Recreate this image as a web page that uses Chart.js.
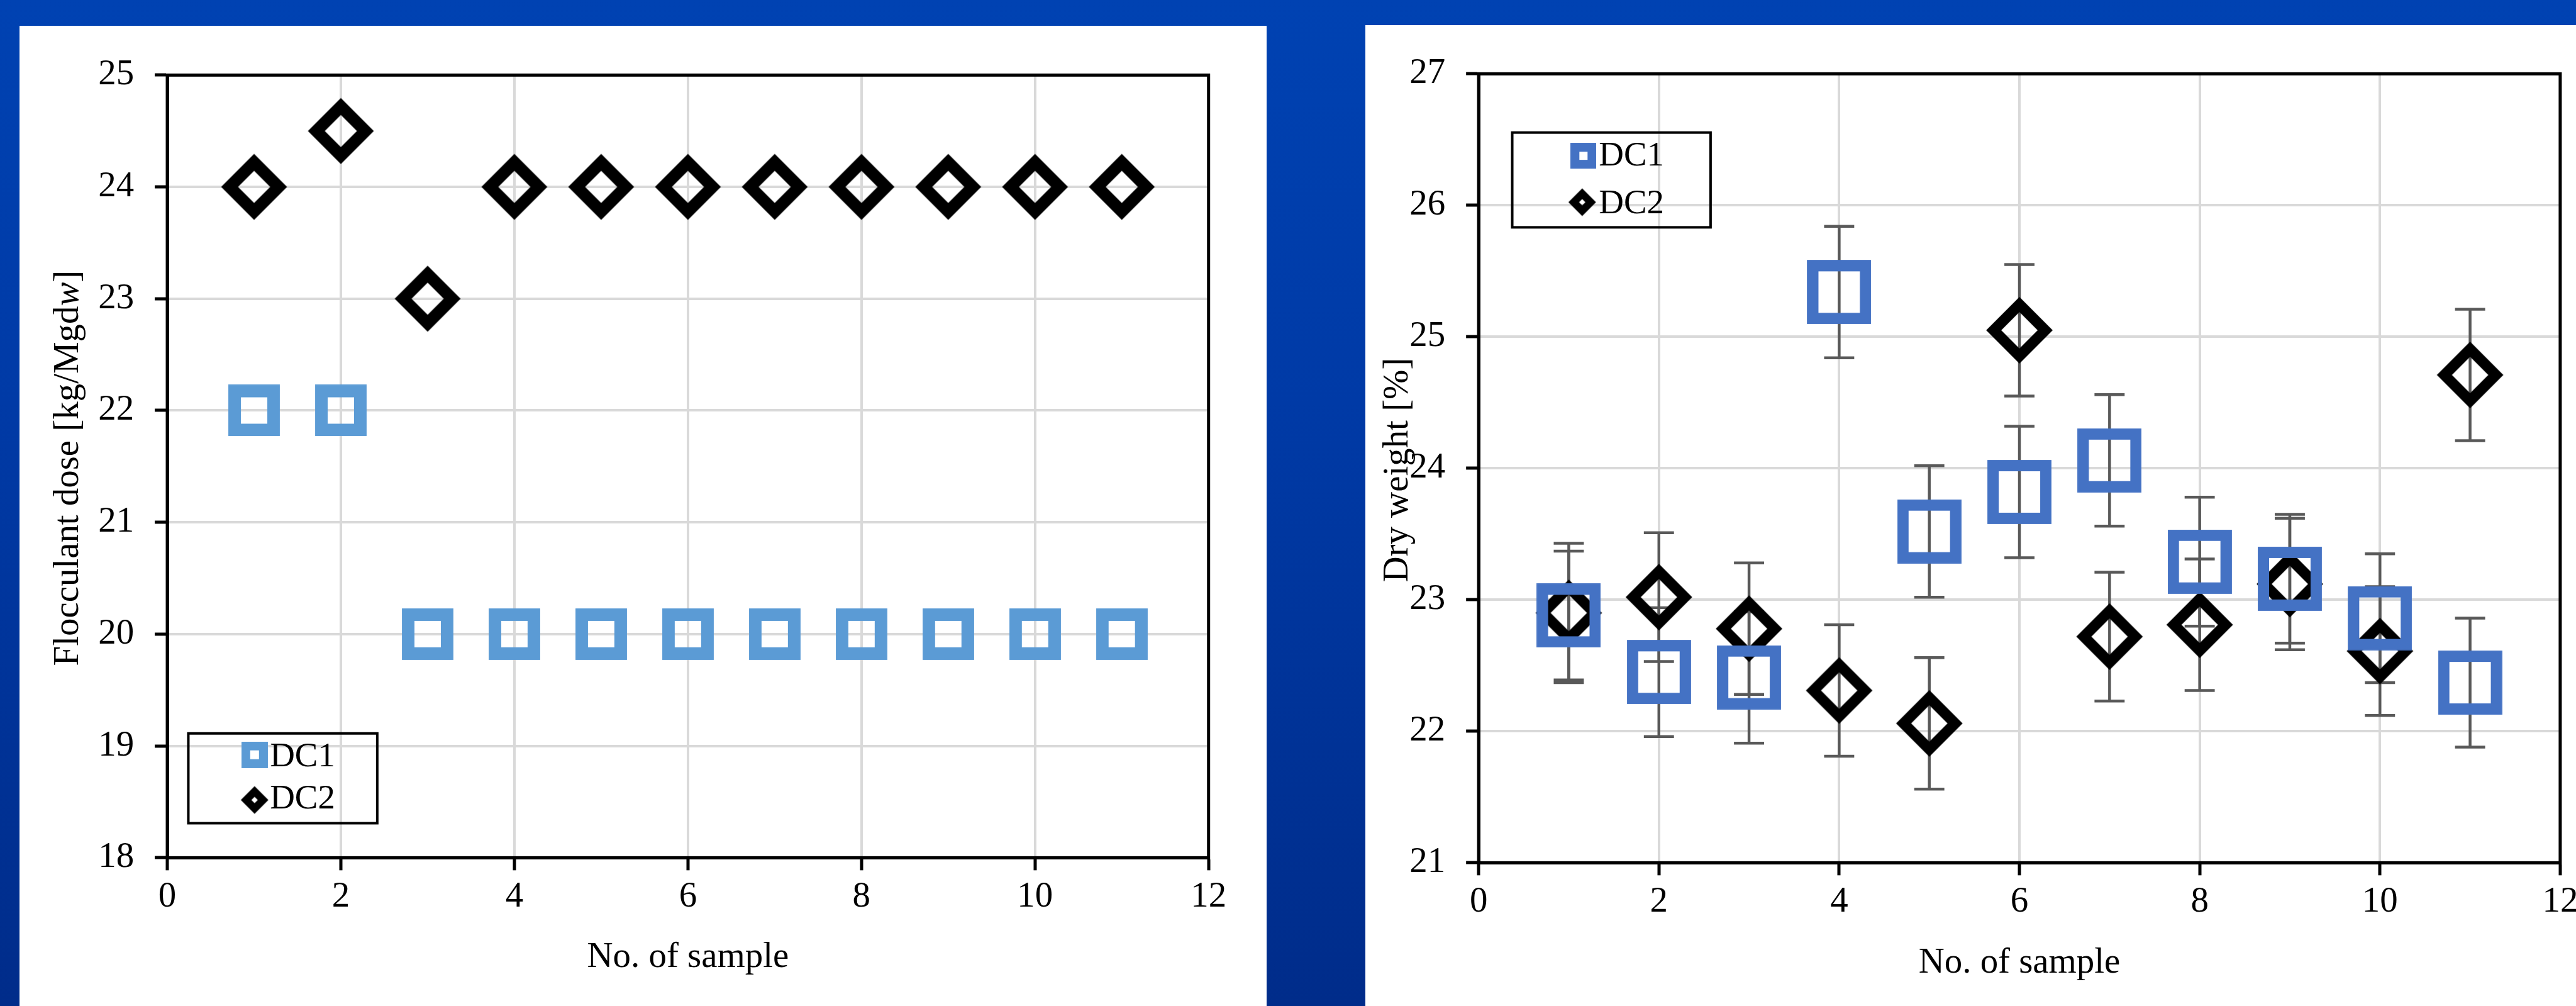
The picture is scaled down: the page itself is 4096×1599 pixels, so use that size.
<!DOCTYPE html>
<html>
<head>
<meta charset="utf-8">
<script src="https://cdn.jsdelivr.net/npm/chart.js@4.4.1/dist/chart.umd.min.js"></script>
<style>
  html, body { margin: 0; padding: 0; width: 4096px; height: 1599px; overflow: hidden; }
  body { position: relative; background: linear-gradient(180deg, #0042b2 0%, #003aa6 40%, #002c8a 100%); }
  .panel { position: absolute; background: #fff; overflow: hidden; }
  canvas { display: block; }
</style>
</head>
<body>
<div class="panel" id="p1"><canvas id="dose"></canvas></div>
<div class="panel" id="p2"><canvas id="dry"></canvas></div>
<script>
// everything below is measured on the 4103x1602 reference, then scaled
const S = 0.998;
const k = v => v * S;

const sampleNo = [1, 2, 3, 4, 5, 6, 7, 8, 9, 10, 11];
const xTicks = [0, 2, 4, 6, 8, 10, 12];

// left chart: flocculant dose
const doseDC1 = [22, 22, 20, 20, 20, 20, 20, 20, 20, 20, 20];
const doseDC2 = [24, 24.5, 23, 24, 24, 24, 24, 24, 24, 24, 24];
const doseTicks = [18, 19, 20, 21, 22, 23, 24, 25];

// right chart: dry weight with error bars
const dryDC1 = [22.88, 22.45, 22.41, 25.34, 23.52, 23.82, 24.06, 23.29, 23.16, 22.86, 22.37];
const dryDC1Err = [0.49, 0.49, 0.5, 0.5, 0.5, 0.5, 0.5, 0.49, 0.49, 0.49, 0.49];
const dryDC2 = [22.9, 23.02, 22.78, 22.31, 22.06, 25.05, 22.72, 22.81, 23.12, 22.61, 24.71];
const dryDC2Err = [0.53, 0.49, 0.5, 0.5, 0.5, 0.5, 0.49, 0.5, 0.5, 0.49, 0.5];
const dryTicks = [21, 22, 23, 24, 25, 26, 27];

const FONT = "'Liberation Serif', 'Times New Roman', serif";
Chart.defaults.font.family = FONT;
Chart.defaults.color = '#000';

function squareMark(outer, stroke, color) {
  const c = document.createElement('canvas');
  const o = k(outer), w = k(stroke);
  c.width = c.height = Math.ceil(o);
  const g = c.getContext('2d');
  const m = (c.width - o) / 2;
  g.strokeStyle = color;
  g.lineWidth = w;
  g.lineJoin = 'miter';
  g.strokeRect(m + w / 2, m + w / 2, o - w, o - w);
  return c;
}

function diamondMark(outer, stroke, color) {
  const c = document.createElement('canvas');
  const o = k(outer), w = k(stroke);
  c.width = c.height = Math.ceil(o) + 2;
  const g = c.getContext('2d');
  const m = c.width / 2, r = o / 2 - w * Math.SQRT1_2;
  g.strokeStyle = color;
  g.lineWidth = w;
  g.lineJoin = 'miter';
  g.beginPath();
  g.moveTo(m, m - r);
  g.lineTo(m + r, m);
  g.lineTo(m, m + r);
  g.lineTo(m - r, m);
  g.closePath();
  g.stroke();
  return c;
}

const toPoints = vals => vals.map((v, i) => ({ x: sampleNo[i], y: v }));

function decorations(cfg) {
  return {
    id: 'decor',
    beforeDatasetsDraw(chart) {
      const { ctx, chartArea: a, scales } = chart;
      ctx.save();
      if (cfg.errors) {
        const cap = k(24);
        ctx.strokeStyle = '#595959';
        ctx.lineWidth = k(4.5);
        cfg.errors.forEach(([vals, errs]) => {
          vals.forEach((v, i) => {
            const px = scales.x.getPixelForValue(sampleNo[i]);
            const top = scales.y.getPixelForValue(v + errs[i]);
            const bot = scales.y.getPixelForValue(v - errs[i]);
            ctx.beginPath();
            ctx.moveTo(px, top); ctx.lineTo(px, bot);
            ctx.moveTo(px - cap, top); ctx.lineTo(px + cap, top);
            ctx.moveTo(px - cap, bot); ctx.lineTo(px + cap, bot);
            ctx.stroke();
          });
        });
      }
      // closed frame round the plot
      ctx.strokeStyle = '#000';
      ctx.lineWidth = k(5);
      ctx.strokeRect(a.left, a.top, a.width, a.height);
      ctx.restore();
    },
    afterDraw(chart) {
      const { ctx, chartArea: a } = chart;
      ctx.save();
      ctx.fillStyle = '#000';
      ctx.font = `${k(57)}px ${FONT}`;
      ctx.textBaseline = 'alphabetic';
      // x title
      ctx.textAlign = 'center';
      ctx.fillText('No. of sample', (a.left + a.right) / 2, k(cfg.xTitleY));
      // y title, rotated, may be made of plain and italic pieces
      ctx.translate(k(cfg.yTitleX), k(cfg.yTitleY));
      ctx.rotate(-Math.PI / 2);
      const parts = cfg.yTitle;
      const fontOf = p => `${p.italic ? 'italic ' : ''}${k(57)}px ${FONT}`;
      let total = 0;
      parts.forEach(p => { ctx.font = fontOf(p); total += ctx.measureText(p.t).width; });
      let x = -total / 2;
      ctx.textAlign = 'left';
      parts.forEach(p => {
        ctx.font = fontOf(p);
        ctx.fillText(p.t, x, 0);
        x += ctx.measureText(p.t).width;
      });
      ctx.setTransform(1, 0, 0, 1, 0, 0);
      // legend box
      const L = cfg.legend;
      ctx.strokeStyle = '#000';
      ctx.lineWidth = k(4);
      ctx.strokeRect(k(L.box[0]), k(L.box[1]), k(L.box[2] - L.box[0]), k(L.box[3] - L.box[1]));
      ctx.font = `${k(55)}px ${FONT}`;
      ctx.textAlign = 'left';
      L.rows.forEach(r => {
        ctx.drawImage(r.mark, k(r.mx) - r.mark.width / 2, k(r.my) - r.mark.height / 2);
        ctx.fillText(r.label, k(L.textX), k(r.base));
      });
      ctx.restore();
    }
  };
}

function axisOptions(min, max, step, padding, fitKey, fitVal) {
  return {
    type: 'linear',
    min: min,
    max: max,
    ticks: { stepSize: step, color: '#000', padding: k(padding), font: { size: k(57), family: FONT } },
    grid: { color: '#d9d9d9', lineWidth: k(4), tickColor: '#000', tickWidth: k(5), tickLength: k(20) },
    border: { display: true, color: '#000', width: k(5) },
    afterFit: s => { s[fitKey] = k(fitVal); }
  };
}

function makeChart(id, panelId, p) {
  const panel = document.getElementById(panelId);
  const cv = document.getElementById(id);
  panel.style.left = k(p.left) + 'px';
  panel.style.top = k(p.top) + 'px';
  panel.style.width = k(p.w) + 'px';
  panel.style.height = k(p.h) + 'px';
  cv.width = Math.round(k(p.w));
  cv.height = Math.round(k(p.h));
  const a = p.area;
  return new Chart(cv, {
    type: 'scatter',
    data: {
      datasets: [
        { label: 'DC1', data: toPoints(p.dc1), pointStyle: p.marks[0], pointRadius: k(45), showLine: false },
        { label: 'DC2', data: toPoints(p.dc2), pointStyle: p.marks[1], pointRadius: k(45), showLine: false }
      ]
    },
    options: {
      responsive: false,
      animation: false,
      devicePixelRatio: 1,
      layout: {
        padding: {
          left: k(a.left) - k(150),
          top: k(a.top),
          right: cv.width - k(a.right),
          bottom: cv.height - k(a.bottom) - k(100)
        }
      },
      scales: {
        x: axisOptions(xTicks[0], xTicks[xTicks.length - 1], 2, 9, 'height', 100),
        y: axisOptions(p.yTicks[0], p.yTicks[p.yTicks.length - 1], 1, 33, 'width', 150)
      },
      plugins: { legend: { display: false }, tooltip: { enabled: false } }
    },
    plugins: [decorations(p.decor)]
  });
}

// left panel, origin (31, 41) on the reference
makeChart('dose', 'p1', {
  left: 31, top: 41, w: 1987, h: 1561,
  area: { left: 235.5, top: 78.5, right: 1894.5, bottom: 1325 },
  dc1: doseDC1, dc2: doseDC2, yTicks: doseTicks,
  marks: [squareMark(82, 20, '#5b9bd5'), diamondMark(105, 19, '#000')],
  decor: {
    xTitleY: 1499,
    yTitleX: 93, yTitleY: 704.5,
    yTitle: [{ t: 'Flocculant dose [kg/Mgd' }, { t: 'w', italic: true }, { t: ']' }],
    legend: {
      box: [269, 1127, 570, 1270], textX: 399,
      rows: [
        { label: 'DC1', mark: squareMark(42, 14, '#5b9bd5'), mx: 374.5, my: 1161, base: 1179 },
        { label: 'DC2', mark: diamondMark(44, 12, '#000'), mx: 374.5, my: 1233, base: 1246 }
      ]
    }
  }
});

// right panel, origin (2175, 40); canvas runs past the window edge like the reference
makeChart('dry', 'p2', {
  left: 2175, top: 40, w: 1965, h: 1562,
  area: { left: 180.5, top: 77.5, right: 1903.7, bottom: 1334 },
  dc1: dryDC1, dc2: dryDC2, yTicks: dryTicks,
  marks: [squareMark(102, 18, '#4472c4'), diamondMark(106, 17, '#000')],
  decor: {
    errors: [[dryDC1, dryDC1Err], [dryDC2, dryDC2Err]],
    xTitleY: 1509,
    yTitleX: 67, yTitleY: 708.5,
    yTitle: [{ t: 'Dry weight [%]' }],
    legend: {
      box: [234, 171, 550, 322], textX: 372,
      rows: [
        { label: 'DC1', mark: squareMark(41, 14, '#4472c4'), mx: 347.5, my: 208, base: 223 },
        { label: 'DC2', mark: diamondMark(44, 12, '#000'), mx: 345.5, my: 282, base: 300 }
      ]
    }
  }
});
</script>
</body>
</html>
